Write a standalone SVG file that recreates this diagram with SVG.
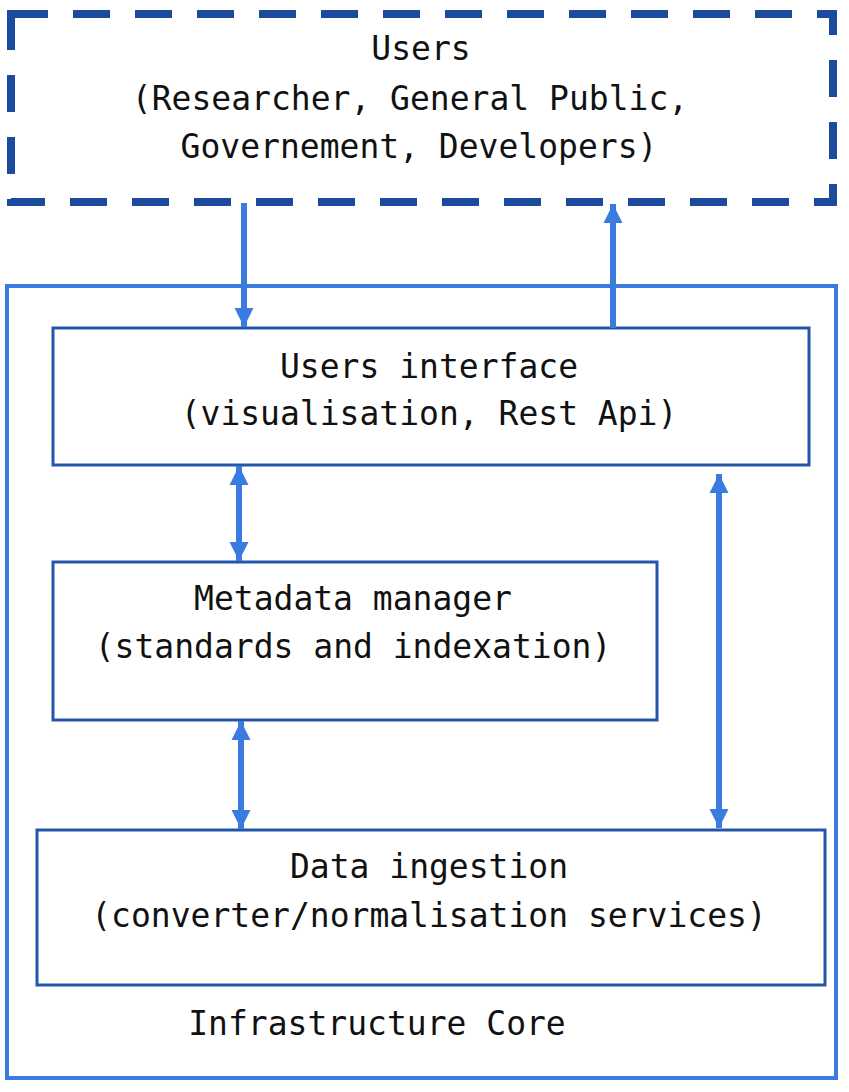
<svg xmlns="http://www.w3.org/2000/svg" width="849" height="1092" viewBox="0 0 849 1092">
<style>
.t{font-family:"DejaVu Sans Mono","Liberation Mono",monospace;font-size:33px;fill:#111;text-anchor:middle}
.box{fill:#fff;stroke:#2356a8;stroke-width:3}
.conn{stroke:#3a7be0;stroke-width:6;fill:none}
</style>
<defs>
<marker id="ah" viewBox="0 0 10 10" refX="10" refY="5" markerWidth="3.2" markerHeight="3.2" orient="auto-start-reverse" markerUnits="strokeWidth">
<path d="M0,0 L10,5 L0,10 z" fill="#3a7be0"/>
</marker>
</defs>
<rect width="849" height="1092" fill="#fff"/>
<g id="users">
<rect x="11" y="14" width="822" height="188" fill="none" stroke="#1c4a9c" stroke-width="8" stroke-dasharray="37 25"/>
<text class="t" x="421" y="60">Users</text>
<text class="t" x="410" y="110">(Researcher, General Public,</text>
<text class="t" x="419" y="158">Governement, Developers)</text>
</g>
<g id="infrastructure-core">
<rect x="7" y="286" width="829" height="792" fill="none" stroke="#3a7be0" stroke-width="4"/>
<text class="t" x="377" y="1035">Infrastructure Core</text>
</g>
<g id="users-interface">
<rect class="box" x="53" y="328" width="756" height="137"/>
<text class="t" x="429" y="378">Users interface</text>
<text class="t" x="429" y="425">(visualisation, Rest Api)</text>
</g>
<g id="metadata-manager">
<rect class="box" x="53" y="562" width="604" height="158"/>
<text class="t" x="353" y="610">Metadata manager</text>
<text class="t" x="353" y="658">(standards and indexation)</text>
</g>
<g id="data-ingestion">
<rect class="box" x="37" y="830" width="788" height="155"/>
<text class="t" x="429" y="878">Data ingestion</text>
<text class="t" x="429" y="927">(converter/normalisation services)</text>
</g>
<g id="connectors">
<line class="conn" x1="244" y1="203" x2="244" y2="327" marker-end="url(#ah)"/>
<line class="conn" x1="613" y1="328" x2="613" y2="204" marker-end="url(#ah)"/>
<line class="conn" x1="239" y1="466" x2="239" y2="561" marker-start="url(#ah)" marker-end="url(#ah)"/>
<line class="conn" x1="241" y1="721" x2="241" y2="829" marker-start="url(#ah)" marker-end="url(#ah)"/>
<line class="conn" x1="719" y1="474" x2="719" y2="828" marker-start="url(#ah)" marker-end="url(#ah)"/>
</g>
</svg>
